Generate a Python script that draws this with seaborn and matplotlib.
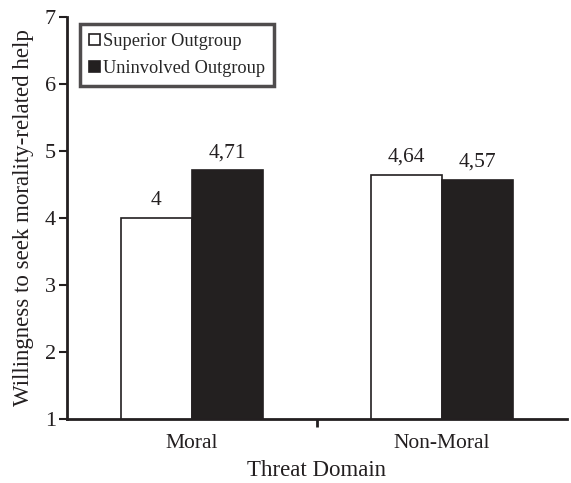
import pandas as pd
import numpy as np
import matplotlib.pyplot as plt
import seaborn as sns

domains = ['Moral', 'Non-Moral']
groups = ['Superior Outgroup', 'Uninvolved Outgroup']
superior = [4.00, 4.64]
uninvolved = [4.71, 4.57]
labels_sup = ['4', '4,64']
labels_uni = ['4,71', '4,57']

df = pd.DataFrame({
    'Threat Domain': domains * 2,
    'Group': [groups[0]] * 2 + [groups[1]] * 2,
    'Value': superior + uninvolved,
})

sns.set_style('white')
plt.rcParams['font.family'] = ['Liberation Serif', 'DejaVu Serif']

fig = plt.figure(figsize=(5.71, 4.83), dpi=100)
ax = fig.add_axes([0.1173, 0.1325, 0.8757, 0.8323])

sns.barplot(data=df, x='Threat Domain', y='Value', hue='Group',
            palette=['white', '#231f20'], edgecolor='#231f20', linewidth=1.2,
            width=0.57, gap=0, ax=ax, legend=True)

for cont, labs in zip(ax.containers, [labels_sup, labels_uni]):
    ax.bar_label(cont, labels=labs, padding=6, fontsize=15.5, color='#231f20')

ax.set_ylim(1, 7)
ax.set_xlim(-0.5, 1.5)
ax.set_yticks(range(1, 8))
ax.tick_params(axis='y', which='major', left=True, length=6, width=1.5,
               labelsize=16, colors='#231f20', pad=2)
ax.tick_params(axis='x', which='major', bottom=False, labelsize=15.5,
               colors='#231f20', pad=7)
ax.set_xticks([0.5], minor=True)
ax.tick_params(axis='x', which='minor', bottom=True, length=6, width=2,
               color='#231f20')

sns.despine(ax=ax)
for s in ['left', 'bottom']:
    ax.spines[s].set_linewidth(2)
    ax.spines[s].set_color('#231f20')

ax.set_xlabel('Threat Domain', fontsize=16.5, color='#231f20', labelpad=5)
ax.set_ylabel('Willingness to seek morality-related help', fontsize=16.5,
              color='#231f20')
ax.yaxis.set_label_coords(-0.066, 0.5)

leg = ax.legend(loc='upper left', bbox_to_anchor=(0.026, 0.983), fontsize=13.2,
                frameon=True, fancybox=False, handlelength=0.6, handleheight=0.6,
                handletextpad=0.15, borderpad=0.5, labelspacing=0.55,
                borderaxespad=0, edgecolor='#231f20')
leg.get_frame().set_linewidth(2.5)

fig.savefig('out.png', dpi=100)
